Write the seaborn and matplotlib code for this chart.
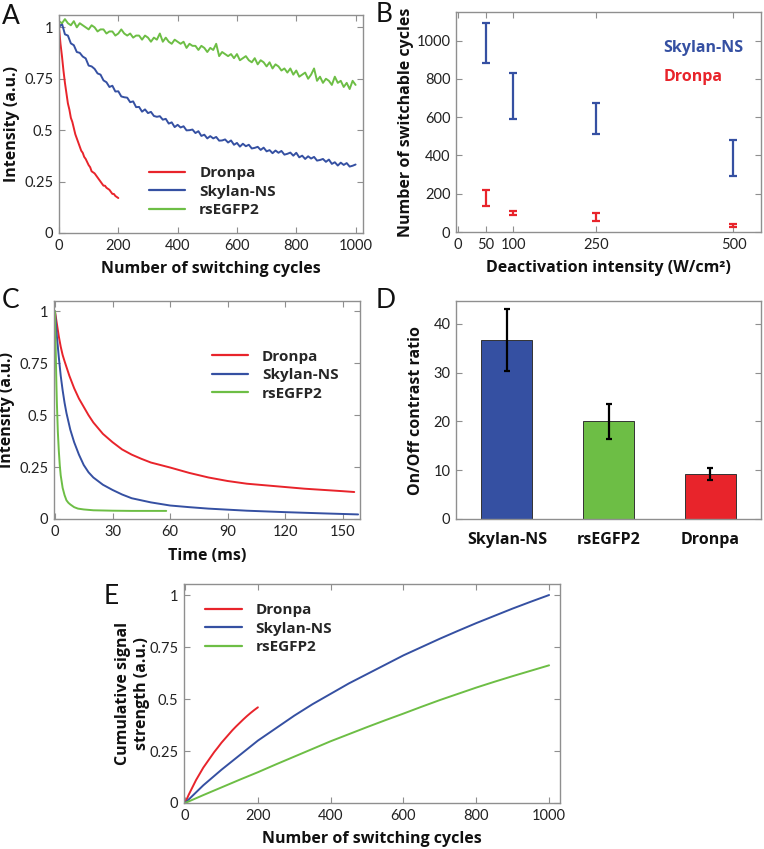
import numpy as np
import pandas as pd
import matplotlib
matplotlib.use("Agg")
import matplotlib.pyplot as plt
import seaborn as sns

# ---------------- data ----------------
# Panel A: intensity vs number of switching cycles (sampled every 10 / 5 cycles)
cycles_a = list(range(0, 1001, 10))
rsegfp2_a = [1.03, 1.02, 1.04, 1.02, 1.01, 1.03, 1.00, 1.02, 1.01, 1.00,
             0.99, 1.01, 1.00, 0.98, 0.99, 0.99, 0.97, 0.98, 0.98, 0.96,
             0.97, 0.99, 0.97, 0.96, 0.97, 0.95, 0.96, 0.96, 0.94, 0.96,
             0.95, 0.93, 0.95, 0.94, 0.97, 0.93, 0.95, 0.93, 0.92, 0.94,
             0.93, 0.92, 0.93, 0.90, 0.92, 0.91, 0.91, 0.89, 0.91, 0.90,
             0.88, 0.90, 0.89, 0.92, 0.86, 0.88, 0.87, 0.86, 0.87, 0.85,
             0.87, 0.84, 0.85, 0.86, 0.84, 0.83, 0.85, 0.82, 0.84, 0.83,
             0.81, 0.83, 0.80, 0.82, 0.81, 0.79, 0.80, 0.78, 0.80, 0.77,
             0.79, 0.76, 0.77, 0.78, 0.75, 0.77, 0.80, 0.74, 0.76, 0.73,
             0.75, 0.74, 0.72, 0.76, 0.73, 0.74, 0.71, 0.73, 0.70, 0.74, 0.72]
skylan_a = [1.00, 1.01, 0.97, 0.95, 0.93, 0.91, 0.89, 0.87, 0.86, 0.84,
            0.82, 0.81, 0.79, 0.78, 0.76, 0.75, 0.73, 0.72, 0.71, 0.69,
            0.68, 0.67, 0.66, 0.65, 0.64, 0.63, 0.62, 0.61, 0.60, 0.595,
            0.585, 0.58, 0.575, 0.565, 0.56, 0.555, 0.545, 0.54, 0.535, 0.525,
            0.52, 0.515, 0.51, 0.505, 0.50, 0.495, 0.49, 0.485, 0.48, 0.475,
            0.47, 0.465, 0.462, 0.458, 0.455, 0.45, 0.447, 0.444, 0.44, 0.437,
            0.435, 0.43, 0.428, 0.424, 0.42, 0.417, 0.414, 0.411, 0.408, 0.405,
            0.405, 0.40, 0.398, 0.395, 0.392, 0.39, 0.387, 0.385, 0.383, 0.38,
            0.38, 0.376, 0.373, 0.37, 0.367, 0.364, 0.361, 0.358, 0.355, 0.352,
            0.35, 0.347, 0.344, 0.341, 0.338, 0.336, 0.333, 0.331, 0.329, 0.327, 0.325]
skylan_noise = [0.0, 0.008, -0.004, 0.01, -0.008, 0.003, -0.01, 0.006, -0.002, 0.009, -0.006]
cycles_dronpa_a = list(range(0, 201, 5))
dronpa_a = [1.00, 0.92, 0.86, 0.79, 0.73, 0.68, 0.63, 0.60, 0.56, 0.54,
            0.51, 0.48, 0.46, 0.44, 0.42, 0.40, 0.39, 0.37, 0.36, 0.345,
            0.33, 0.32, 0.30, 0.295, 0.29, 0.28, 0.27, 0.26, 0.25, 0.24,
            0.23, 0.23, 0.22, 0.215, 0.21, 0.20, 0.19, 0.19, 0.18, 0.175, 0.17]

# Panel B: number of switchable cycles (error ranges)
intensity_b = [50, 100, 250, 500]
skylan_b_low = [885, 590, 510, 295]
skylan_b_high = [1095, 830, 675, 480]
dronpa_b_low = [135, 88, 55, 28]
dronpa_b_high = [220, 112, 98, 40]

# Panel C: off-switching kinetics
t_dronpa_c = [0, 1, 2, 3, 4, 5, 7.5, 10, 12.5, 15, 17.5, 20, 25, 30, 35, 40, 45, 50, 55, 60,
              70, 80, 90, 100, 110, 120, 130, 140, 150, 156]
dronpa_c = [1.0, 0.94, 0.88, 0.83, 0.79, 0.76, 0.69, 0.63, 0.58, 0.54, 0.50, 0.465, 0.41,
            0.37, 0.335, 0.31, 0.29, 0.272, 0.26, 0.248, 0.222, 0.20, 0.183, 0.17, 0.162,
            0.154, 0.146, 0.14, 0.134, 0.13]
t_skylan_c = [0, 1, 2, 3, 4, 5, 6, 7, 8, 9, 10, 12.5, 15, 17.5, 20, 25, 30, 35, 40, 50, 60,
              70, 80, 100, 120, 140, 158]
skylan_c = [1.0, 0.88, 0.78, 0.69, 0.62, 0.56, 0.51, 0.47, 0.43, 0.40, 0.37, 0.31, 0.26,
            0.225, 0.20, 0.165, 0.14, 0.118, 0.10, 0.08, 0.065, 0.057, 0.05, 0.04, 0.033,
            0.027, 0.022]
t_rsegfp2_c = [0, 0.25, 0.5, 0.75, 1, 1.5, 2, 2.5, 3, 4, 5, 6, 7, 8, 10, 12, 15, 20, 30, 40, 58]
rsegfp2_c = [1.0, 0.88, 0.76, 0.65, 0.56, 0.42, 0.33, 0.26, 0.21, 0.15, 0.115, 0.09, 0.078,
             0.07, 0.057, 0.05, 0.046, 0.042, 0.04, 0.039, 0.039]

# Panel D: on/off contrast ratio
proteins_d = ["Skylan-NS", "rsEGFP2", "Dronpa"]
contrast_d = [36.7, 20.0, 9.2]
contrast_low = [30.4, 16.5, 7.9]
contrast_high = [43.0, 23.5, 10.5]

# Panel E: cumulative signal strength
cycles_dronpa_e = [0, 10, 20, 30, 40, 50, 60, 70, 80, 90, 100, 110, 120, 130, 140, 150,
                   160, 170, 180, 190, 200]
dronpa_e = [0, 0.04, 0.075, 0.11, 0.14, 0.17, 0.195, 0.22, 0.245, 0.267, 0.29, 0.31, 0.33,
            0.35, 0.368, 0.385, 0.402, 0.418, 0.433, 0.447, 0.46]
cycles_e = [0, 50, 100, 150, 200, 250, 300, 350, 400, 450, 500, 550, 600, 650, 700, 750,
            800, 850, 900, 950, 1000]
skylan_e = [0, 0.085, 0.16, 0.23, 0.30, 0.36, 0.42, 0.475, 0.525, 0.575, 0.62, 0.665, 0.71,
            0.75, 0.79, 0.828, 0.865, 0.90, 0.935, 0.968, 1.0]
rsegfp2_e = [0, 0.038, 0.075, 0.112, 0.148, 0.186, 0.223, 0.26, 0.297, 0.331, 0.365, 0.398,
             0.43, 0.463, 0.495, 0.525, 0.555, 0.583, 0.61, 0.636, 0.662]

# ---------------- style ----------------
sns.set_theme(style="white")
plt.rcParams['font.family'] = ['Lato', 'DejaVu Sans']
RED = "#E8242B"
BLUE = "#3550A2"
GREEN = "#6DBE45"
SPINE = "#8f8f8f"
W, H = 764, 849
fig = plt.figure(figsize=(W / 100, H / 100), dpi=100)


def axes_px(left, top, right, bottom):
    return fig.add_axes([left / W, 1 - bottom / H, (right - left) / W, (bottom - top) / H])


def style(ax, xticks_len=4):
    for s in ax.spines.values():
        s.set_color(SPINE)
        s.set_linewidth(1.0)
    ax.tick_params(axis='both', direction='in', length=4, width=0.8, color=SPINE,
                   labelsize=10.5, labelcolor='#222222', pad=4,
                   top=True, right=True, bottom=True, left=True)
    ax.tick_params(axis='x', length=xticks_len)


BOLDFONT = ['Open Sans', 'DejaVu Sans']
LBL = dict(fontsize=11.5, fontweight='bold', color='#111111', family=BOLDFONT)
LEGPROP = dict(weight='bold', size=11, family=BOLDFONT)
q_ticks = [0, 0.25, 0.5, 0.75, 1]
q_labels = ["0", "0.25", "0.5", "0.75", "1"]

# ---------------- Panel A ----------------
axA = axes_px(59, 15, 363, 233)
skylan_noisy = [v + skylan_noise[i % 11] for i, v in enumerate(skylan_a)]
dfA = pd.concat([
    pd.DataFrame({"x": cycles_dronpa_a, "y": dronpa_a, "p": "Dronpa"}),
    pd.DataFrame({"x": cycles_a, "y": skylan_noisy, "p": "Skylan-NS"}),
    pd.DataFrame({"x": cycles_a, "y": rsegfp2_a, "p": "rsEGFP2"}),
])
sns.lineplot(data=dfA, x="x", y="y", hue="p", hue_order=["Dronpa", "Skylan-NS", "rsEGFP2"],
             palette=[RED, BLUE, GREEN], estimator=None, sort=False, lw=1.4, ax=axA)
axA.set_xlim(0, 1025)
axA.set_ylim(0, 1.06)
axA.set_xticks([0, 200, 400, 600, 800, 1000])
axA.set_yticks(q_ticks)
axA.set_yticklabels(q_labels)
axA.set_xlabel("Number of switching cycles", labelpad=6, **LBL)
axA.set_ylabel("Intensity (a.u.)", labelpad=3, **LBL)
style(axA)
legA = axA.legend(loc="upper left", bbox_to_anchor=(0.25, 0.37), frameon=False,
                  handlelength=2.4, handletextpad=0.9, labelspacing=0.3, prop=LEGPROP)
for h in legA.get_lines():
    h.set_linewidth(1.6)

# ---------------- Panel B ----------------
axB = axes_px(456, 12, 761, 232)
dfB = pd.DataFrame({
    "intensity": intensity_b * 2,
    "low": skylan_b_low + dronpa_b_low,
    "high": skylan_b_high + dronpa_b_high,
    "p": ["Skylan-NS"] * 4 + ["Dronpa"] * 4,
})
dfB["mid"] = (dfB["low"] + dfB["high"]) / 2
dfB["half"] = (dfB["high"] - dfB["low"]) / 2
for name, col in [("Skylan-NS", BLUE), ("Dronpa", RED)]:
    sub = dfB[dfB.p == name]
    axB.errorbar(sub["intensity"], sub["mid"], yerr=sub["half"], fmt='none', ecolor=col,
                 elinewidth=1.6, capsize=3.2, capthick=1.6)
axB.set_xlim(-4, 550)
axB.set_ylim(0, 1150)
axB.set_xticks([0, 50, 100, 250, 500])
axB.set_yticks([0, 200, 400, 600, 800, 1000])
axB.set_xlabel("Deactivation intensity (W/cm²)", labelpad=6, **LBL)
axB.set_ylabel("Number of switchable cycles", labelpad=2, **LBL)
style(axB)
axB.text(0.68, 0.835, "Skylan-NS", transform=axB.transAxes, color=BLUE, fontsize=11.5,
         fontweight='bold', family=BOLDFONT, va='center')
axB.text(0.68, 0.705, "Dronpa", transform=axB.transAxes, color=RED, fontsize=11.5,
         fontweight='bold', family=BOLDFONT, va='center')

# ---------------- Panel C ----------------
axC = axes_px(54, 301, 360, 519)
dfC = pd.concat([
    pd.DataFrame({"x": t_dronpa_c, "y": dronpa_c, "p": "Dronpa"}),
    pd.DataFrame({"x": t_skylan_c, "y": skylan_c, "p": "Skylan-NS"}),
    pd.DataFrame({"x": t_rsegfp2_c, "y": rsegfp2_c, "p": "rsEGFP2"}),
])
sns.lineplot(data=dfC, x="x", y="y", hue="p", hue_order=["Dronpa", "Skylan-NS", "rsEGFP2"],
             palette=[RED, BLUE, GREEN], estimator=None, sort=False, lw=1.4, ax=axC)
axC.set_xlim(-0.5, 159)
axC.set_ylim(0, 1.05)
axC.set_xticks([0, 30, 60, 90, 120, 150])
axC.set_yticks(q_ticks)
axC.set_yticklabels(q_labels)
axC.set_xlabel("Time (ms)", labelpad=7, **LBL)
axC.set_ylabel("Intensity (a.u.)", labelpad=3, **LBL)
style(axC)
legC = axC.legend(loc="upper left", bbox_to_anchor=(0.47, 0.84), frameon=False,
                  handlelength=2.4, handletextpad=0.9, labelspacing=0.3, prop=LEGPROP)
for h in legC.get_lines():
    h.set_linewidth(1.6)

# ---------------- Panel D ----------------
axD = axes_px(456, 301, 761, 519)
dfD = pd.DataFrame({"protein": proteins_d, "ratio": contrast_d})
sns.barplot(data=dfD, x="protein", y="ratio", hue="protein", palette=[BLUE, GREEN, RED],
            legend=False, width=0.5, edgecolor="#333333", linewidth=0.7, saturation=1, ax=axD)
yerr = [np.array(contrast_d) - np.array(contrast_low), np.array(contrast_high) - np.array(contrast_d)]
axD.errorbar(range(len(proteins_d)), contrast_d, yerr=yerr, fmt='none', ecolor='black',
             elinewidth=1.6, capsize=2.5, capthick=1.6)
axD.set_xlim(-0.5, 2.5)
axD.set_ylim(0, 44.7)
axD.set_yticks([0, 10, 20, 30, 40])
axD.set_xlabel("")
axD.set_ylabel("On/Off contrast ratio", labelpad=7, **LBL)
style(axD, xticks_len=0)
axD.tick_params(axis='x', pad=9)
for t in axD.get_xticklabels():
    t.set_fontweight('bold')
    t.set_fontsize(11.5)
    t.set_family(BOLDFONT)
    t.set_color('#111111')

# ---------------- Panel E ----------------
axE = axes_px(184, 584, 560, 803)
dfE = pd.concat([
    pd.DataFrame({"x": cycles_dronpa_e, "y": dronpa_e, "p": "Dronpa"}),
    pd.DataFrame({"x": cycles_e, "y": skylan_e, "p": "Skylan-NS"}),
    pd.DataFrame({"x": cycles_e, "y": rsegfp2_e, "p": "rsEGFP2"}),
])
sns.lineplot(data=dfE, x="x", y="y", hue="p", hue_order=["Dronpa", "Skylan-NS", "rsEGFP2"],
             palette=[RED, BLUE, GREEN], estimator=None, sort=False, lw=1.4, ax=axE)
axE.set_xlim(-3, 1030)
axE.set_ylim(0, 1.053)
axE.set_xticks([0, 200, 400, 600, 800, 1000])
axE.set_yticks(q_ticks)
axE.set_yticklabels(q_labels)
axE.set_xlabel("Number of switching cycles", labelpad=6, **LBL)
axE.set_ylabel("Cumulative signal\nstrength (a.u.)", linespacing=1.3, **LBL)
axE.yaxis.set_label_coords(-0.09, 0.5)
style(axE)
legE = axE.legend(loc="upper left", bbox_to_anchor=(0.02, 0.975), frameon=False,
                  handlelength=2.4, handletextpad=0.9, labelspacing=0.3, prop=LEGPROP)
for h in legE.get_lines():
    h.set_linewidth(1.6)

# ---------------- panel letters ----------------
for letter, (px, py) in {"A": (2, 4), "B": (376, 2), "C": (2, 288), "D": (376, 288),
                         "E": (104, 584)}.items():
    fig.text(px / W, 1 - py / H, letter, fontsize=19, va='top', ha='left', color='#111111')

fig.savefig("out.png", dpi=100)
